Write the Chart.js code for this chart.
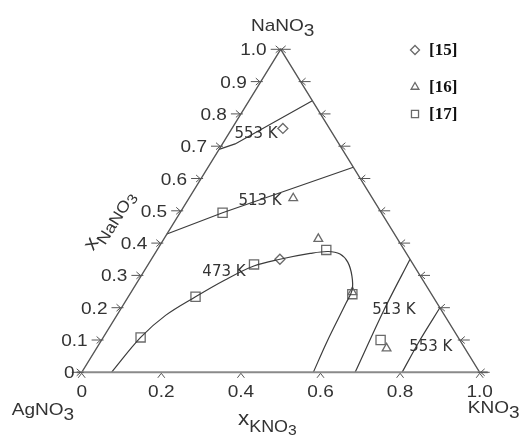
<!DOCTYPE html>
<html>
<head>
<meta charset="utf-8">
<script src="https://cdn.jsdelivr.net/npm/chart.js@4.4.0/dist/chart.umd.min.js"></script>
<style>
  html, body { margin: 0; padding: 0; background: #fff; }
</style>
</head>
<body>
<canvas id="c" width="526" height="436"></canvas>
<script>
// Compositions are written as [x_KNO3, x_NaNO3]; x_AgNO3 = 1 - x_KNO3 - x_NaNO3.
const isotherm553Left  = [[0.000, 0.690], [0.032, 0.707], [0.159, 0.841]];
const isotherm513Upper = [[0.000, 0.428], [0.107, 0.494], [0.365, 0.635]];
const isotherm473 = [
  [0.075, 0.000], [0.094, 0.108], [0.123, 0.177], [0.169, 0.234], [0.217, 0.286],
  [0.268, 0.329], [0.323, 0.350], [0.390, 0.368], [0.432, 0.374], [0.466, 0.366],
  [0.498, 0.341], [0.530, 0.298], [0.552, 0.255], [0.557, 0.215], [0.569, 0.094],
  [0.582, 0.000]
];
const isotherm513Right = [[0.687, 0.000], [0.663, 0.193], [0.650, 0.350]];
const isotherm553Right = [[0.805, 0.000], [0.800, 0.100], [0.800, 0.200]];

// Literature points
const ref15 = [[0.128, 0.755], [0.323, 0.350]];
const ref16 = [[0.262, 0.539], [0.388, 0.413], [0.556, 0.248], [0.729, 0.074]];
const ref17 = [[0.107, 0.494], [0.094, 0.108], [0.169, 0.234], [0.266, 0.334],
               [0.425, 0.379], [0.559, 0.242], [0.701, 0.100]];

const naTickLabels  = ['0', '0.1', '0.2', '0.3', '0.4', '0.5', '0.6', '0.7', '0.8', '0.9', '1.0'];
const kTickLabels   = ['0', '0.2', '0.4', '0.6', '0.8', '1.0'];
const isothermLabels = ['553 K', '513 K', '473 K', '513 K', '553 K'];
const legendLabels   = ['[15]', '[16]', '[17]'];

const SANS = '"Liberation Sans", Arial, sans-serif';
const LINE = '#3c3c3c';
const MARK = '#6a6a6a';

// ternary -> cartesian (x along the KNO3 edge, y = NaNO3 height)
const toXY = ([k, n]) => ({ x: k + n / 2, y: n });
const curve = (pts, tension) => ({
  type: 'scatter', data: pts.map(toXY), showLine: true, pointRadius: 0,
  borderColor: LINE, borderWidth: 1.2, tension: tension, clip: false
});
const markers = (pts, style, r) => ({
  type: 'scatter', data: pts.map(toXY), showLine: false, pointStyle: style,
  pointRadius: r, pointHoverRadius: r, pointBorderColor: MARK, pointBorderWidth: 1.3,
  pointBackgroundColor: 'rgba(0,0,0,0)', clip: false
});

function richText(ctx, parts, x, y, align, sx) {
  let w = 0;
  parts.forEach(p => { ctx.font = p[1] + 'px ' + SANS; w += ctx.measureText(p[0]).width; });
  ctx.save();
  ctx.translate(x, y);
  ctx.scale(sx, 1);
  let cx = align === 'center' ? -w / 2 : (align === 'right' ? -w : 0);
  ctx.textAlign = 'left';
  ctx.textBaseline = 'alphabetic';
  parts.forEach(p => {
    ctx.font = p[1] + 'px ' + SANS;
    ctx.fillText(p[0], cx, p[2]);
    cx += ctx.measureText(p[0]).width;
  });
  ctx.restore();
}

const ternaryFrame = {
  id: 'ternaryFrame',
  afterDatasetsDraw(chart) {
    const ctx = chart.ctx;
    const xs = chart.scales.x, ys = chart.scales.y;
    const P = (k, n) => ({ x: xs.getPixelForValue(k + n / 2), y: ys.getPixelForValue(n) });
    const A = P(0, 0), K = P(1, 0), N = P(0, 1);

    ctx.save();
    // outer edges
    ctx.strokeStyle = '#555';
    ctx.lineWidth = 1.3;
    ctx.beginPath();
    ctx.moveTo(K.x, K.y); ctx.lineTo(N.x, N.y); ctx.lineTo(A.x, A.y);
    ctx.stroke();
    ctx.strokeStyle = '#8a8a8a';
    ctx.lineWidth = 2;
    ctx.beginPath();
    ctx.moveTo(A.x - 5, A.y); ctx.lineTo(K.x + 8, K.y);
    ctx.stroke();

    // ticks
    ctx.strokeStyle = '#555';
    ctx.lineWidth = 1;
    ctx.beginPath();
    for (let i = 0; i <= 10; i++) {
      const n = i / 10;
      const L = P(0, n);
      ctx.moveTo(L.x - 10, L.y); ctx.lineTo(L.x + 2, L.y);
      ctx.moveTo(L.x - 5, L.y - 3.5); ctx.lineTo(L.x - 1, L.y); ctx.lineTo(L.x - 5, L.y + 3.5);
      const R = P(1 - n, n);
      ctx.moveTo(R.x - 2, R.y); ctx.lineTo(R.x + 10, R.y);
      ctx.moveTo(R.x + 5, R.y - 3.5); ctx.lineTo(R.x + 1, R.y); ctx.lineTo(R.x + 5, R.y + 3.5);
    }
    kTickLabels.forEach(t => {
      const B = P(parseFloat(t), 0);
      ctx.moveTo(B.x - 3.5, B.y + 5.5); ctx.lineTo(B.x, B.y + 1); ctx.lineTo(B.x + 3.5, B.y + 5.5);
    });
    ctx.stroke();

    // tick labels
    ctx.fillStyle = '#333';
    naTickLabels.forEach(t => {
      const n = parseFloat(t);
      const L = P(0, n);
      richText(ctx, [[t, 17, 0]], L.x - (n === 0 ? 7 : 14), L.y + 6, 'right', 1.12);
    });
    kTickLabels.forEach(t => {
      const B = P(parseFloat(t), 0);
      richText(ctx, [[t, 17, 0]], B.x, B.y + 25, 'center', 1.12);
    });

    // component names and axis titles
    richText(ctx, [['NaNO', 17, 0], ['3', 17, 5]], N.x + 2, N.y - 18, 'center', 1.12);
    richText(ctx, [['AgNO', 17, 0], ['3', 17, 5]], A.x - 70, A.y + 43, 'left', 1.12);
    richText(ctx, [['KNO', 17, 0], ['3', 17, 5]], K.x - 12, K.y + 41, 'left', 1.12);
    richText(ctx, [['x', 20, 0], ['KNO', 16, 7], ['3', 14, 10]], 238, 425, 'left', 1.12);
    ctx.save();
    ctx.translate(110, 221);
    ctx.rotate(-58 * Math.PI / 180);
    richText(ctx, [['x', 20, 0], ['NaNO', 16, 7], ['3', 14, 10]], 0, 2, 'center', 1.12);
    ctx.restore();

    // isotherm labels
    const labelAt = [[0.069, 0.738], [0.183, 0.530], [0.202, 0.311], [0.688, 0.193], [0.838, 0.078]];
    ctx.fillStyle = '#333';
    ctx.font = '15px "DejaVu Sans", sans-serif';
    ctx.textAlign = 'center';
    ctx.textBaseline = 'middle';
    isothermLabels.forEach((t, i) => {
      const q = P(labelAt[i][0], labelAt[i][1]);
      ctx.fillText(t, q.x, q.y);
    });

    // legend
    const styles = [['rectRot', 4.5], ['triangle', 4.5], ['rect', 5]];
    const rows = [50, 87, 114];
    legendLabels.forEach((t, i) => {
      ctx.strokeStyle = MARK;
      ctx.fillStyle = 'rgba(0,0,0,0)';
      ctx.lineWidth = 1.3;
      Chart.helpers.drawPoint(ctx, { pointStyle: styles[i][0], radius: styles[i][1], rotation: 0, borderWidth: 1.3 }, 415, rows[i]);
      ctx.fillStyle = '#111';
      ctx.font = 'bold 17px "Liberation Serif", "Times New Roman", serif';
      ctx.textAlign = 'left';
      ctx.textBaseline = 'middle';
      ctx.fillText(t, 429, rows[i] + 1);
    });
    ctx.restore();
  }
};

new Chart(document.getElementById('c'), {
  type: 'scatter',
  data: {
    datasets: [
      curve(isotherm553Left, 0),
      curve(isotherm513Upper, 0),
      curve(isotherm473, 0.35),
      curve(isotherm513Right, 0.3),
      curve(isotherm553Right, 0.3),
      markers(ref15, 'rectRot', 5),
      markers(ref16, 'triangle', 5),
      markers(ref17, 'rect', 6.5)
    ]
  },
  options: {
    responsive: false,
    animation: false,
    devicePixelRatio: 1,
    layout: { padding: { left: 81.7, right: 46.3, top: 49.3, bottom: 63.7 } },
    scales: {
      x: { type: 'linear', min: 0, max: 1, display: false },
      y: { type: 'linear', min: 0, max: 1, display: false }
    },
    plugins: { legend: { display: false }, tooltip: { enabled: false } }
  },
  plugins: [ternaryFrame]
});
</script>
</body>
</html>
